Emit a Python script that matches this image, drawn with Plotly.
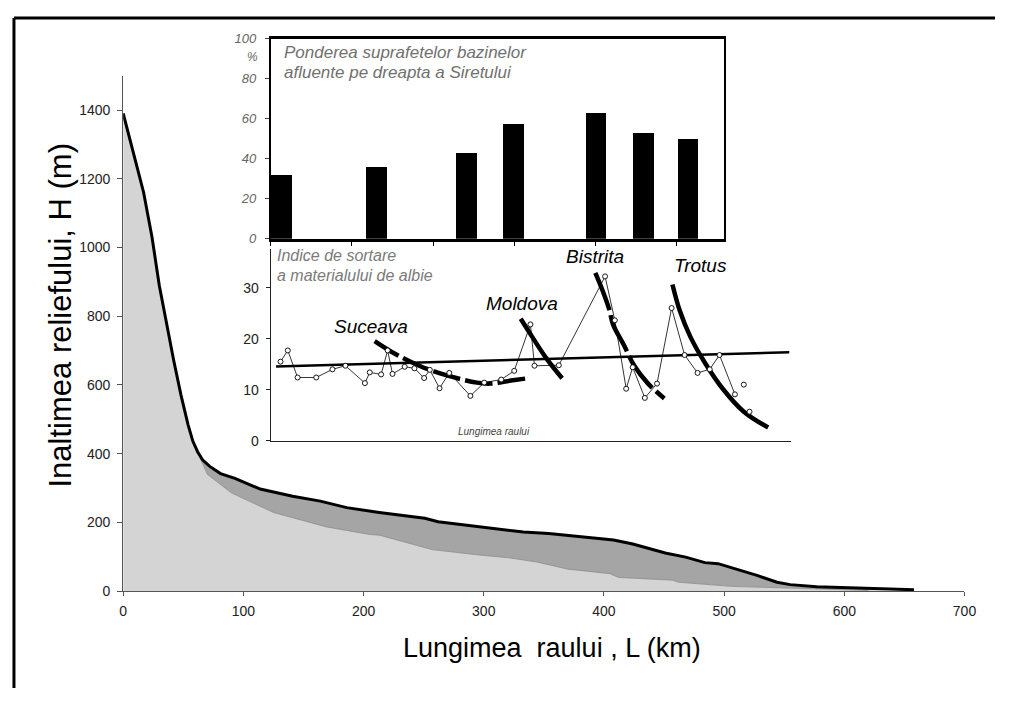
import plotly.graph_objects as go

# page is 1015x704; the browser body keeps its default 8px margin,
# so the figure is 999x688 and sits 8px in from the top-left corner
PAGE_W, PAGE_H, BODY_M = 1015, 704, 8
W, H = PAGE_W - 2 * BODY_M, PAGE_H - 2 * BODY_M

# ---- main profile (km, m) ----
top_km = [0, 5, 10, 17, 24, 30, 36, 42, 48, 54, 58, 62, 66, 72, 81, 93, 114, 141, 164, 186, 213,
          251, 262, 306, 333, 354, 377, 392, 408, 424, 451, 468, 484, 495, 511, 528, 544, 555,
          577, 601, 620, 658]
top_h = [1390, 1325, 1255, 1160, 1030, 890, 775, 672, 572, 484, 436, 405, 382, 363, 342, 328, 297,
         276, 262, 243, 229, 212, 202, 184, 172, 168, 160, 154, 149, 137, 111, 99, 83, 80, 64, 45,
         26, 19, 13, 10, 8, 4]
bound_km = [62, 66, 70, 90, 125, 169, 205, 213, 257, 294, 321, 344, 370, 405, 412, 457, 462, 506,
            538, 577, 601, 620]
bound_h = [405, 376, 340, 286, 229, 187, 165, 163, 121, 106, 97, 85, 64, 51, 40, 32, 26, 14, 11,
           7, 4, 2]

# ---- inset 1: bars (share %) ----
bar_pos = [0.126, 1.297, 2.409, 2.99, 4.004, 4.594, 5.139]
bar_val = [32, 35.8, 42.8, 57.3, 63, 53.2, 50]

# ---- inset 2: sorting index ----
idx_u = [0.12, 0.21, 0.33, 0.56, 0.76, 0.92, 1.16, 1.22, 1.36, 1.44, 1.50, 1.65, 1.77, 1.89, 1.96,
         2.08, 2.20, 2.46, 2.63, 2.84, 3.00, 3.20, 3.25, 3.55, 4.12, 4.24, 4.38, 4.46, 4.61, 4.76,
         4.94, 5.10, 5.26, 5.41, 5.53, 5.72]
idx_v = [15.5, 17.7, 12.4, 12.4, 14.0, 14.7, 11.3, 13.4, 13.0, 17.7, 13.1, 14.5, 14.2, 12.3, 13.9,
         10.3, 13.3, 8.8, 11.4, 12.0, 13.7, 22.8, 14.7, 14.8, 32.2, 23.6, 10.2, 14.4, 8.4, 11.2,
         26.0, 16.8, 13.3, 14.0, 16.8, 9.1]
iso_u = [5.83, 5.90]
iso_v = [11.0, 5.7]

reg_u = [0.065, 6.39]
reg_v = [14.55, 17.36]

suc_u = [1.28, 1.48, 1.83, 2.17, 2.54, 2.70, 2.96, 3.17]
suc_v = [19.5, 17.5, 14.7, 12.8, 11.4, 11.2, 11.8, 12.25]
mol_u = [3.08, 3.22, 3.39, 3.59]
mol_v = [23.9, 20.4, 16.3, 12.25]
bis_u = [4.0, 4.09, 4.17, 4.22, 4.35, 4.48, 4.65, 4.85]
bis_v = [32.9, 29.4, 25.8, 22.7, 18.8, 14.7, 11.2, 8.3]
tro_u = [4.95, 5.04, 5.17, 5.35, 5.57, 5.83, 6.13]
tro_v = [30.6, 25.5, 20.4, 15.3, 10.2, 5.7, 2.6]

river_names = ["Suceava", "Moldova", "Bistrita", "Trotus"]
river_lab_u = [1.233, 3.10, 3.99, 5.30]
river_lab_v = [22.3, 26.8, 36.1, 34.3]

# light-grey boundary: follows the profile until the dark band starts
low_km = [k for k in top_km if k < bound_km[0]] + bound_km
low_h = [h for k, h in zip(top_km, top_h) if k < bound_km[0]] + bound_h

LIGHT = "#d4d4d4"
DARK = "#a5a5a5"
FONT = "Arial, Liberation Sans, sans-serif"


def X(p):
    """page pixel -> paper x"""
    return (p - BODY_M) / W


def Y(p):
    """page pixel -> paper y"""
    return 1 - (p - BODY_M) / H


fig = go.Figure()

fig.add_trace(go.Scatter(x=low_km, y=low_h, mode="lines", fill="tozeroy", fillcolor=LIGHT,
                         line=dict(color="#8a8a8a", width=0.8), xaxis="x", yaxis="y",
                         showlegend=False, hoverinfo="skip"))
fig.add_trace(go.Scatter(x=top_km, y=top_h, mode="lines", fill="tonexty", fillcolor=DARK,
                         line=dict(color="black", width=3), xaxis="x", yaxis="y",
                         showlegend=False))

fig.add_trace(go.Bar(x=bar_pos, y=bar_val, width=0.255, marker=dict(color="black", line_width=0),
                     xaxis="x2", yaxis="y2", showlegend=False))

fig.add_trace(go.Scatter(x=reg_u, y=reg_v, mode="lines", line=dict(color="black", width=2.5),
                         xaxis="x3", yaxis="y3", showlegend=False))
for cu, cv, dash in [(suc_u, suc_v, "28px,5px"), (mol_u, mol_v, "solid"),
                     (bis_u, bis_v, "40px,5px"), (tro_u, tro_v, "solid")]:
    fig.add_trace(go.Scatter(x=cu, y=cv, mode="lines", line=dict(color="black", width=4.5,
                                                                   shape="spline", dash=dash),
                             xaxis="x3", yaxis="y3", showlegend=False))
fig.add_trace(go.Scatter(x=idx_u, y=idx_v, mode="lines+markers",
                         line=dict(color="black", width=0.8),
                         marker=dict(symbol="circle", size=5, color="white",
                                     line=dict(color="black", width=0.9)),
                         xaxis="x3", yaxis="y3", showlegend=False))
fig.add_trace(go.Scatter(x=iso_u, y=iso_v, mode="markers",
                         marker=dict(symbol="circle", size=5, color="white",
                                     line=dict(color="black", width=0.9)),
                         xaxis="x3", yaxis="y3", showlegend=False))


def note(x, y, text, size, color, xanchor="center", angle=0, xref="paper", yref="paper"):
    return dict(x=x, y=y, xref=xref, yref=yref, text=text, showarrow=False, textangle=angle,
                xanchor=xanchor, yanchor="middle", font=dict(family=FONT, size=size, color=color))


ann = []
for name, u, v in zip(river_names, river_lab_u, river_lab_v):
    ann.append(note(u, v, "<i>%s</i>" % name, 19, "black", xref="x3", yref="y3"))
ann += [
    note(X(282), Y(46), "<i>Ponderea suprafetelor bazinelor</i>", 17, "#707070", "left"),
    note(X(282), Y(67), "<i>afluente pe dreapta a Siretului</i>", 17, "#707070", "left"),
    note(X(252), Y(51), "<i>%</i>", 12, "#666", "center"),
    note(X(275), Y(254), "<i>Indice de sortare</i>", 16, "#7a7a7a", "left"),
    note(X(275), Y(274), "<i>a materialului de albie</i>", 16, "#7a7a7a", "left"),
    note(X(498), Y(434), "<i>Lungimea raului</i>", 10, "#444", "center"),
    note(X(57), Y(315), "Inaltimea reliefului, H (m)", 31, "black", "center", angle=-90),
    note(X(557), Y(655), "Lungimea&nbsp;&nbsp;raului , L (km)", 27, "black", "center"),
]

shapes = [
    dict(type="line", xref="paper", yref="paper", x0=X(10), x1=1.0, y0=Y(11), y1=Y(11),
         line=dict(color="black", width=3)),
    dict(type="line", xref="paper", yref="paper", x0=X(10), x1=X(10), y0=Y(11), y1=0,
         line=dict(color="black", width=3)),
]

tickf = dict(family=FONT, size=14, color="#222")
fig.update_layout(
    width=W, height=H, margin=dict(l=0, r=0, t=0, b=0),
    paper_bgcolor="white", plot_bgcolor="rgba(0,0,0,0)",
    showlegend=False, annotations=ann, shapes=shapes, bargap=0,
    xaxis=dict(domain=[X(121), X(976)], range=[0, 700], tickvals=[0, 100, 200, 300, 400, 500, 600, 700],
               showline=True, linecolor="#555", linewidth=1, ticks="outside", ticklen=4,
               tickcolor="#555", showgrid=False, zeroline=False, tickfont=tickf, anchor="y",
               ticklabelstandoff=3),
    yaxis=dict(domain=[Y(597), Y(70)], range=[0, 1500], tickvals=[0, 200, 400, 600, 800, 1000, 1200, 1400],
               showline=True, linecolor="#555", linewidth=1, ticks="outside", ticklen=5,
               tickcolor="#555", showgrid=False, zeroline=False, tickfont=tickf, anchor="x",
               ticklabelstandoff=4),
    xaxis2=dict(domain=[X(271), X(732)], range=[0, 461 / 82.46], tickvals=[0, 1, 2, 3, 4, 5],
                showticklabels=False, showline=True, linecolor="black", linewidth=2.5, mirror=True,
                ticks="outside", ticklen=5, tickcolor="black", showgrid=False, zeroline=False,
                anchor="y2"),
    yaxis2=dict(domain=[Y(236.7), Y(32.3)], range=[0, 100], tickvals=[0, 20, 40, 60, 80, 100],
                showline=True, linecolor="black", linewidth=2, mirror=True, ticks="outside",
                ticklen=4, tickcolor="#444", showgrid=False, zeroline=False, anchor="x2",
                ticklabelstandoff=6,
                tickfont=dict(family=FONT, size=13, color="#666", style="italic")),
    xaxis3=dict(domain=[X(271), X(800)], range=[0, 529 / 82.46], showticklabels=False,
                showline=True, linecolor="#222", linewidth=1.2, ticks="", showgrid=False,
                zeroline=False, anchor="y3"),
    yaxis3=dict(domain=[Y(443.3), Y(247)], range=[0, 196.3 / 5.22], tickvals=[0, 10, 20, 30],
                showline=True, linecolor="#222", linewidth=1.2, ticks="outside", ticklen=4,
                tickcolor="#222", showgrid=False, zeroline=False, anchor="x3",
                ticklabelstandoff=4,
                tickfont=dict(family=FONT, size=14, color="#222")),
)

fig.write_html("out.html", config={"displayModeBar": False})
